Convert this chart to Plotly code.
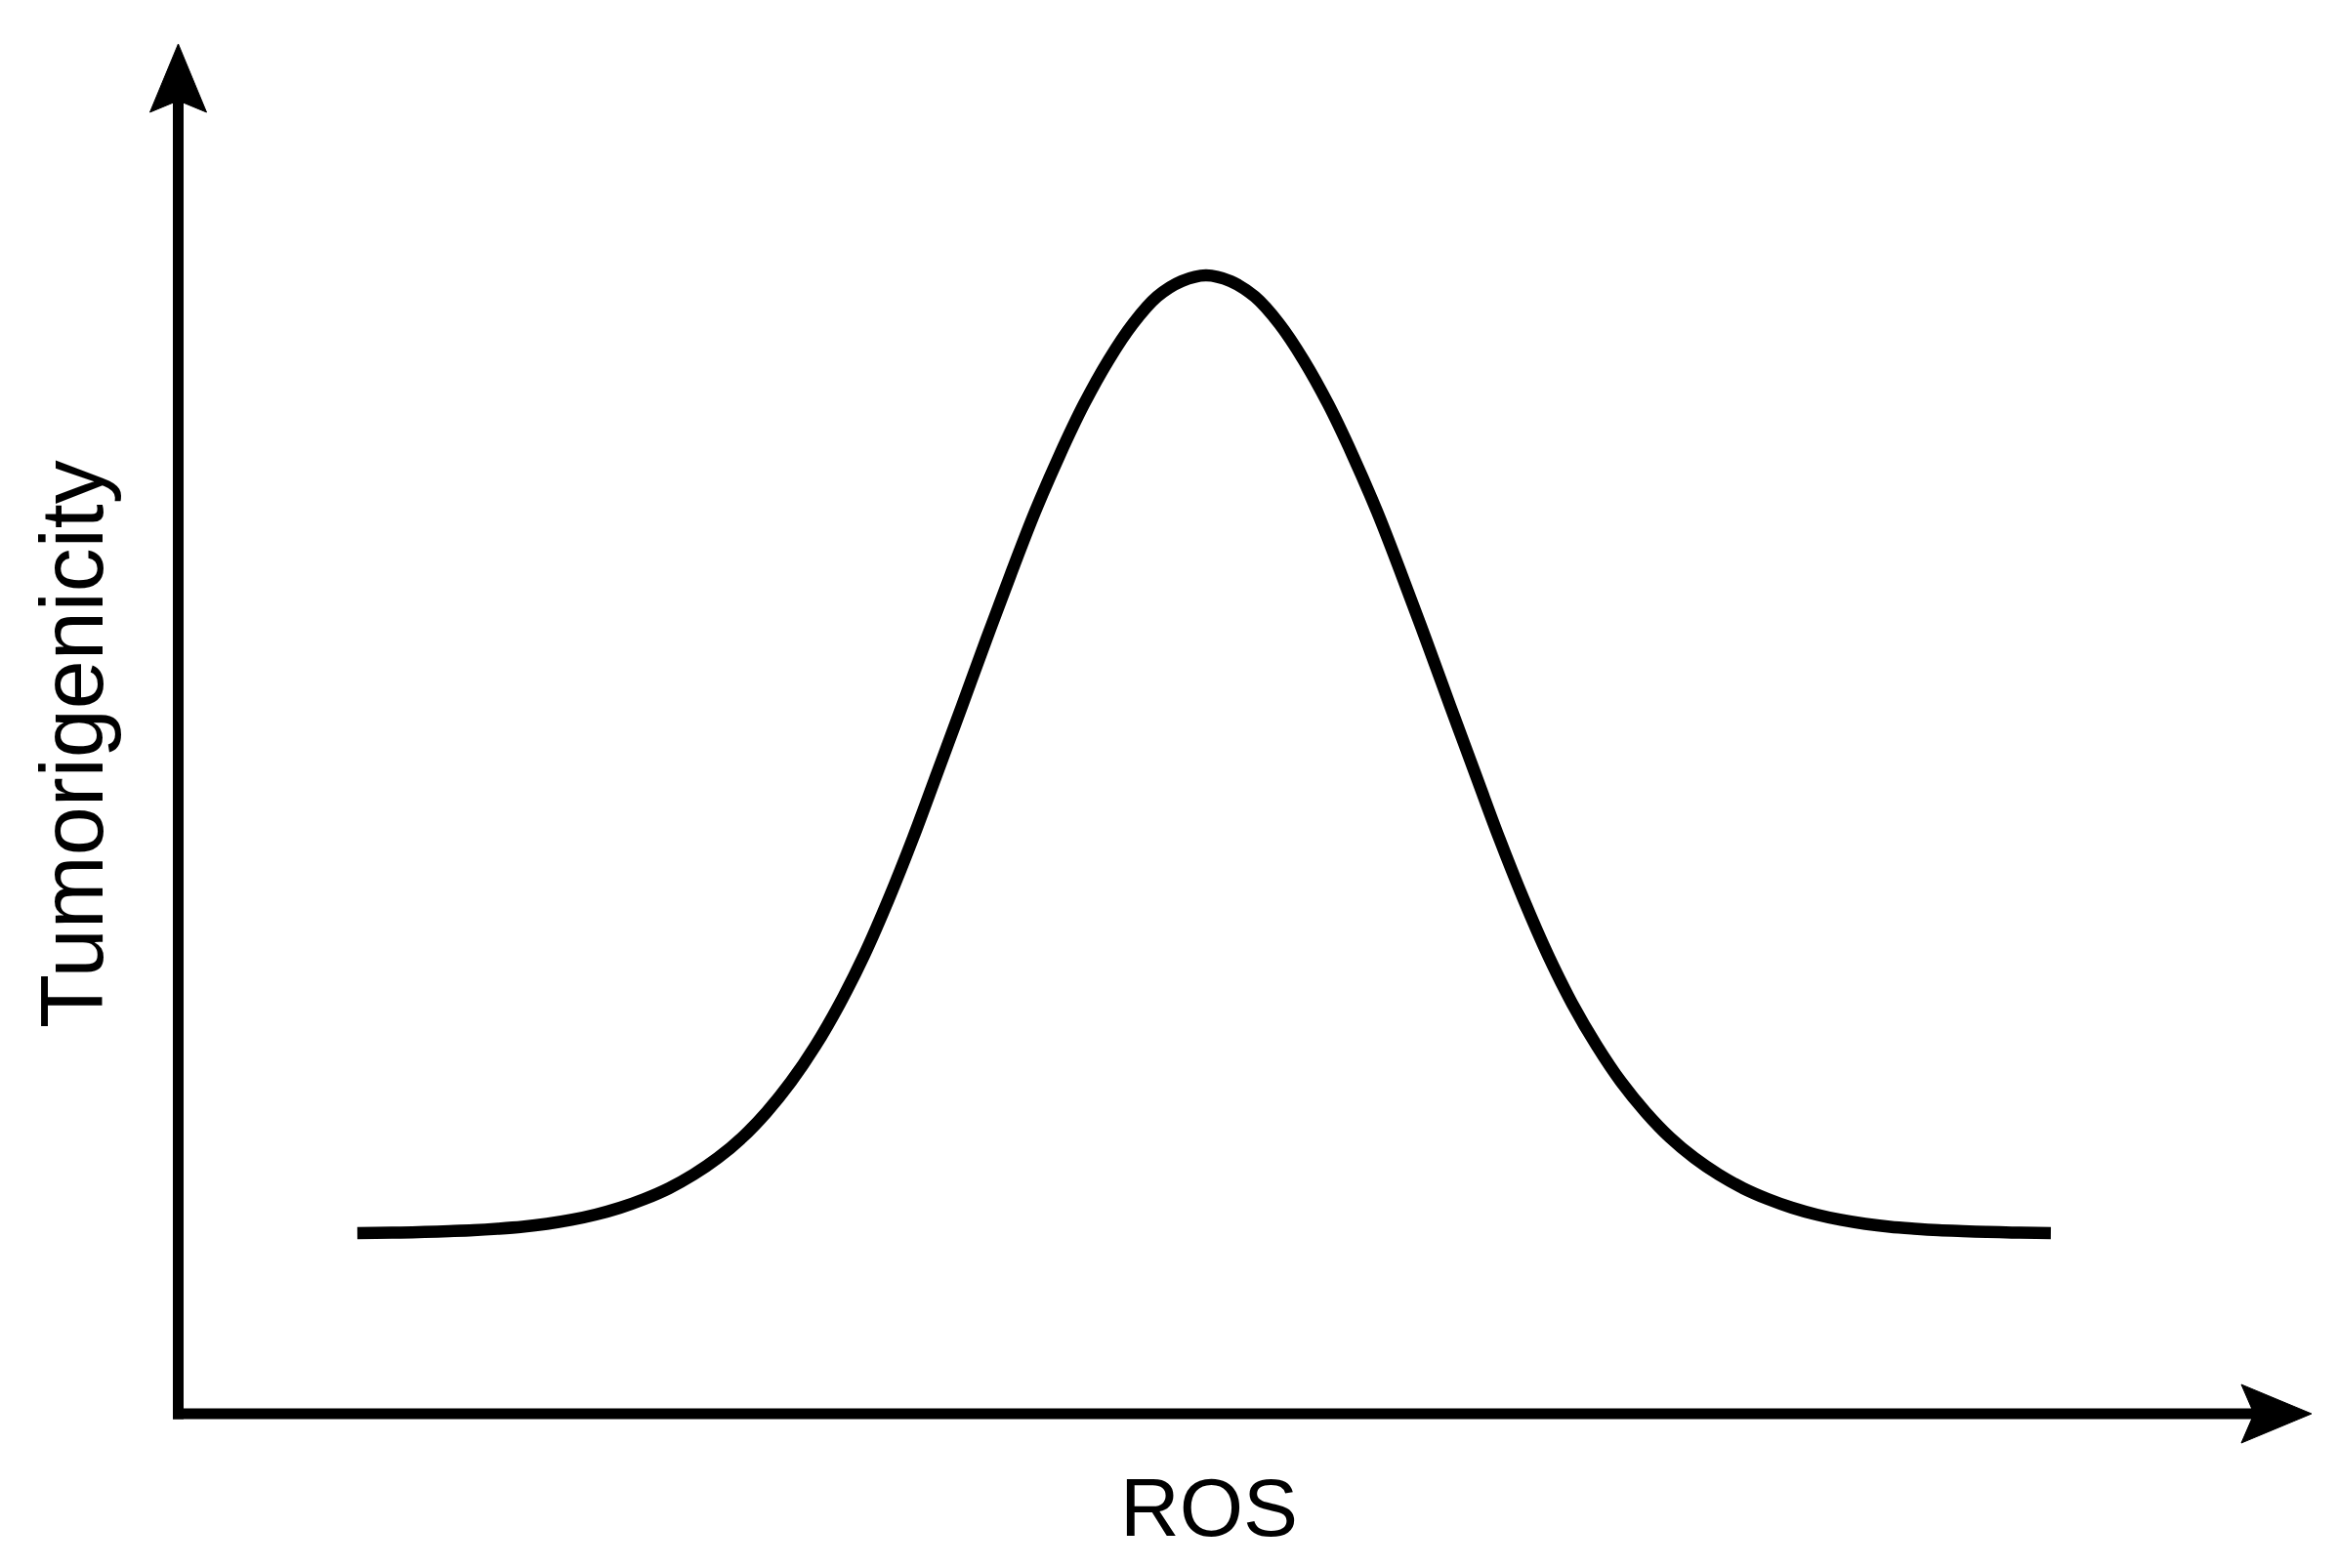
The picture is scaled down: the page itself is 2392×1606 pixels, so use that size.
import plotly.graph_objects as go

# Curve (ROS on a 0-100 axis, Tumorigenicity on a 0-100 axis)
ros = [8.42, 9.29, 10.44, 11.58, 12.73, 13.87, 15.02, 16.16, 17.31, 18.45, 19.60, 20.74,
       21.89, 23.03, 24.18, 25.32, 26.47, 27.61, 28.75, 29.90, 31.04, 32.19, 33.33, 34.48,
       35.62, 36.77, 37.91, 39.06, 40.20, 41.35, 42.49, 43.64, 44.78, 45.92, 47.07, 48.21,
       49.36, 50.50, 51.65, 52.79, 53.94, 55.08, 56.23, 57.37, 58.52, 59.66, 60.81, 61.95,
       63.10, 64.24, 65.38, 66.53, 67.67, 68.82, 69.96, 71.11, 72.25, 73.40, 74.54, 75.69,
       76.83, 77.98, 79.12, 80.27, 81.41, 82.55, 83.70, 84.84, 85.99, 87.13, 87.82]
tumorigenicity = [13.19, 13.20, 13.23, 13.27, 13.33, 13.40, 13.51, 13.65, 13.86, 14.15, 14.54, 15.04,
                  15.68, 16.46, 17.46, 18.67, 20.17, 22.02, 24.23, 26.87, 29.94, 33.50, 37.56, 42.05,
                  46.83, 51.67, 56.52, 61.30, 65.86, 69.99, 73.70, 76.91, 79.56, 81.55, 82.68, 83.11,
                  82.68, 81.55, 79.56, 76.91, 73.70, 69.99, 65.86, 61.30, 56.52, 51.67, 46.83, 42.05,
                  37.56, 33.50, 29.94, 26.87, 24.23, 22.02, 20.17, 18.67, 17.46, 16.46, 15.68, 15.04,
                  14.54, 14.15, 13.86, 13.65, 13.51, 13.40, 13.33, 13.27, 13.23, 13.20, 13.19]

x_label = "ROS"
y_label = "Tumorigenicity"

# page is offset by the 8px body margin, so the figure is 8px smaller
OFF = 8
W, H = 2392 - OFF, 1606 - OFF
ML, MR, MT, MB = 182 - OFF, 26, 45 - OFF, 158
PW, PH = W - ML - MR, H - MT - MB


def px(x):  # page pixel -> paper
    return (x - OFF - ML) / PW


def py(y):  # page pixel -> paper
    return (H - MB - (y - OFF)) / PH


fig = go.Figure()
fig.add_trace(go.Scatter(
    x=ros, y=tumorigenicity, mode="lines",
    line=dict(color="black", width=12.5, shape="spline", smoothing=1.0, simplify=False),
    hoverinfo="skip", showlegend=False,
))

shapes = [
    # y axis line
    dict(type="line", xref="paper", yref="paper",
         x0=px(182.5), x1=px(182.5), y0=py(1453.5), y1=py(96),
         line=dict(color="black", width=11)),
    # x axis line
    dict(type="line", xref="paper", yref="paper",
         x0=px(177), x1=px(2315), y0=py(1448), y1=py(1448),
         line=dict(color="black", width=11)),
    # y arrowhead
    dict(type="path", xref="paper", yref="paper",
         path=f"M {px(182.5)},{py(45)} L {px(211.5)},{py(115)} L {px(182.5)},{py(103)} "
              f"L {px(153.5)},{py(115)} Z",
         fillcolor="black", line=dict(color="black", width=1)),
    # x arrowhead
    dict(type="path", xref="paper", yref="paper",
         path=f"M {px(2367)},{py(1448)} L {px(2295)},{py(1418)} L {px(2308)},{py(1448)} "
              f"L {px(2295)},{py(1478)} Z",
         fillcolor="black", line=dict(color="black", width=1)),
]

FONT = "Arial, Liberation Sans, sans-serif"
annotations = [
    dict(text=x_label, xref="paper", yref="paper", x=px(1238), y=py(1544),
         xanchor="center", yanchor="middle", showarrow=False,
         font=dict(family=FONT, size=84, color="black")),
    dict(text=y_label, xref="paper", yref="paper", x=px(74), y=py(762),
         xanchor="center", yanchor="middle", showarrow=False, textangle=-90,
         font=dict(family=FONT, size=90, color="black")),
]

fig.update_layout(
    width=W, height=H,
    margin=dict(l=ML, r=MR, t=MT, b=MB, pad=0),
    paper_bgcolor="white", plot_bgcolor="white",
    xaxis=dict(range=[0, 100], visible=False, fixedrange=True),
    yaxis=dict(range=[0, 100], visible=False, fixedrange=True),
    shapes=shapes, annotations=annotations,
    showlegend=False,
)

fig.write_html("out.html", config={"displayModeBar": False})
